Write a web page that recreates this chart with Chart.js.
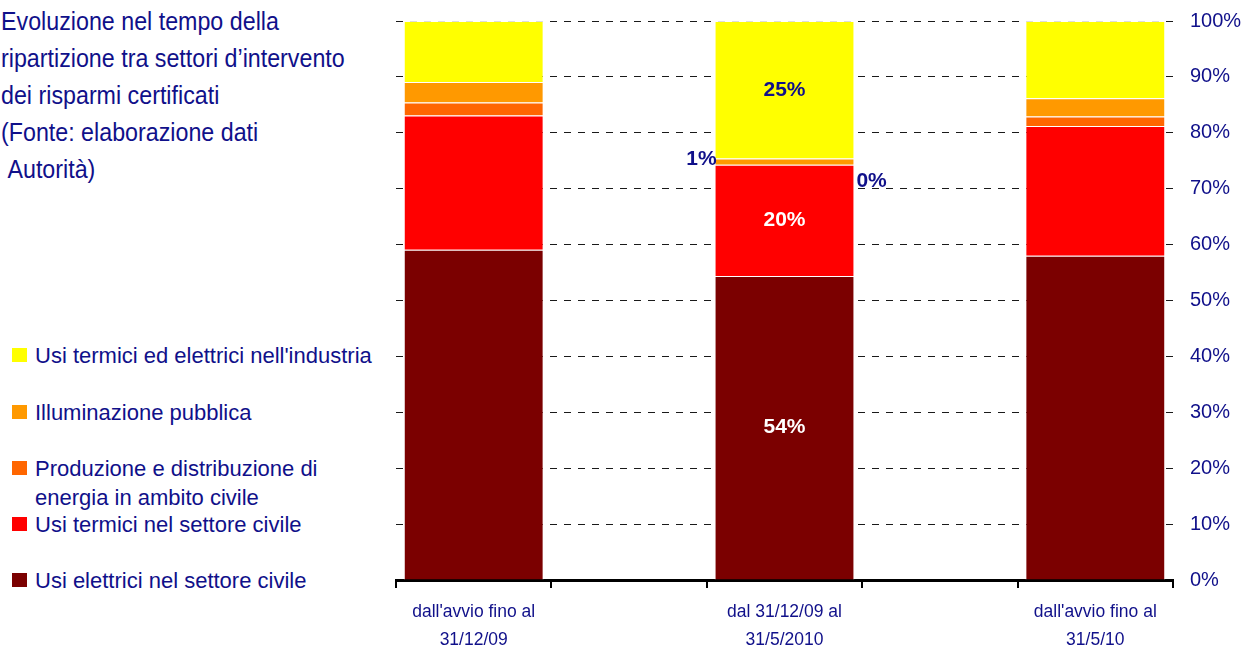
<!DOCTYPE html>
<html>
<head>
<meta charset="utf-8">
<script src="https://cdn.jsdelivr.net/npm/chart.js@4"></script>
<style>
  html, body { margin: 0; padding: 0; background: #fff; }
  body { width: 1246px; height: 648px; position: relative; overflow: hidden;
         font-family: "Liberation Sans", Arial, sans-serif; color: #10108a; }
  #title { position: absolute; left: 1px; top: 3px; font-size: 25px; line-height: 37px;
           white-space: nowrap; transform: scaleX(0.93); transform-origin: 0 0; }
  #legend { position: absolute; left: 0; top: 0; }
  .item { position: absolute; left: 12px; font-size: 22px; line-height: 29px; white-space: nowrap; }
  .item .box { position: absolute; left: 0; width: 15px; height: 14px; }
  .item .txt { position: absolute; left: 23px; top: 0; }
  #wrap { position: absolute; left: 380px; top: -8px; width: 866px; height: 656px; }
</style>
</head>
<body>
<div id="title">Evoluzione nel tempo della<br>ripartizione tra settori d’intervento<br>dei risparmi certificati<br>(Fonte: elaborazione dati<br>&nbsp;Autorità)</div>
<div id="legend"></div>
<div id="wrap"><canvas id="chart"></canvas></div>

<script>
// ============================================
// Ripartizione risparmi certificati per settore
// ============================================

// categories (empty slots between the three bars)
const periods = [
    ["dall'avvio fino al", "31/12/09"],
    "",
    ["dal 31/12/09 al", "31/5/2010"],
    "",
    ["dall'avvio fino al", "31/5/10"]
];

// series values (%), bottom of stack first
const usiElettriciCivile = [59.1, null, 54.4, null, 58.0];
const usiTermiciCivile   = [24.0, null, 19.9, null, 23.2];
const produzioneEnergia  = [2.3,  null, 0,    null, 1.7];
const illuminazione      = [3.7,  null, 1.1,  null, 3.3];
const usiIndustria       = [10.9, null, 24.6, null, 13.8];

const seriesNames = [
    'Usi elettrici nel settore civile',
    'Usi termici nel settore civile',
    'Produzione e distribuzione di energia in ambito civile',
    'Illuminazione pubblica',
    "Usi termici ed elettrici nell'industria"
];
const seriesColors = ['#7b0000', '#ff0000', '#ff6600', '#ff9900', '#ffff00'];

// y-axis ticks
const yTicks = [0, 10, 20, 30, 40, 50, 60, 70, 80, 90, 100];

const NAVY = '#10108a';
const FONT = '"Liberation Sans", Arial, sans-serif';

// labels shown only on the middle bar
const labelIndex = 2;
const labelPlace = ['inside', 'inside', 'right', 'left', 'inside'];
const labelColor = ['#fff', '#fff', NAVY, NAVY, NAVY];
const labelShift = [0, 0, 17, -2, 0];

const valueLabels = {
    id: 'valueLabels',
    afterDatasetsDraw(chart) {
        const ctx = chart.ctx;
        ctx.save();
        ctx.font = 'bold 21px ' + FONT;
        ctx.textBaseline = 'middle';
        chart.data.datasets.forEach((ds, i) => {
            const bar = chart.getDatasetMeta(i).data[labelIndex];
            const v = ds.data[labelIndex];
            if (!bar || v === null) return;
            const text = Math.round(v) + '%';
            const yMid = (bar.y + bar.base) / 2 + labelShift[i];
            const half = bar.width / 2;
            ctx.fillStyle = labelColor[i];
            if (labelPlace[i] === 'left') {
                ctx.textAlign = 'right';
                ctx.fillText(text, bar.x - half + 2, yMid);
            } else if (labelPlace[i] === 'right') {
                ctx.textAlign = 'left';
                ctx.fillText(text, bar.x + half + 2, yMid);
            } else {
                ctx.textAlign = 'center';
                ctx.fillText(text, bar.x, yMid);
            }
        });
        ctx.restore();
    }
};

function buildLegend() {
    // y centres of legend rows, top item first
    const rowY = [355, 412, 468, 524, 580];
    const legend = document.getElementById('legend');
    const order = [4, 3, 2, 1, 0];
    legend.innerHTML = order.map((s, k) => {
        let name = seriesNames[s];
        if (s === 2) name = 'Produzione e distribuzione di<br>energia in ambito civile';
        return `
        <div class="item" style="top:${rowY[k] - 14.5}px">
            <span class="box" style="top:7px;background:${seriesColors[s]}"></span>
            <span class="txt">${name}</span>
        </div>`;
    }).join('');
}

function renderChart() {
    const datasets = [usiElettriciCivile, usiTermiciCivile, produzioneEnergia, illuminazione, usiIndustria]
        .map((data, i) => ({
            label: seriesNames[i],
            data: data,
            backgroundColor: seriesColors[i],
            borderColor: 'rgba(255,255,255,0.85)',
            borderWidth: 1,
            barPercentage: 0.9,
            categoryPercentage: 1
        }));

    new Chart(document.getElementById('chart'), {
        type: 'bar',
        data: { labels: periods, datasets: datasets },
        options: {
            responsive: true,
            maintainAspectRatio: false,
            animation: false,
            layout: { padding: { left: 16, top: 5, right: 0, bottom: 0 } },
            plugins: {
                legend: { display: false },
                tooltip: { enabled: false }
            },
            scales: {
                x: {
                    stacked: true,
                    afterFit: function(scale) { scale.height = 68; },
                    grid: {
                        offset: true,
                        drawOnChartArea: false,
                        drawTicks: true,
                        tickLength: 8,
                        color: '#000',
                        lineWidth: 2
                    },
                    border: { display: true, color: '#000', width: 3 },
                    ticks: {
                        color: NAVY,
                        font: { family: FONT, size: 17.5, lineHeight: 1.6 },
                        padding: 10,
                        maxRotation: 0,
                        autoSkip: false
                    }
                },
                y: {
                    stacked: true,
                    position: 'right',
                    min: 0,
                    max: 100,
                    afterFit: function(scale) { scale.width = 73; },
                    afterBuildTicks: function(scale) {
                        scale.ticks = yTicks.map(v => ({ value: v }));
                    },
                    grid: {
                        color: '#1a1a1a',
                        lineWidth: 1,
                        drawTicks: false
                    },
                    border: { display: false, dash: [7, 7] },
                    ticks: {
                        color: NAVY,
                        font: { family: FONT, size: 20 },
                        padding: 17,
                        callback: function(value) { return value + '%'; }
                    }
                }
            }
        },
        plugins: [valueLabels]
    });
}

buildLegend();
renderChart();
</script>
</body>
</html>
